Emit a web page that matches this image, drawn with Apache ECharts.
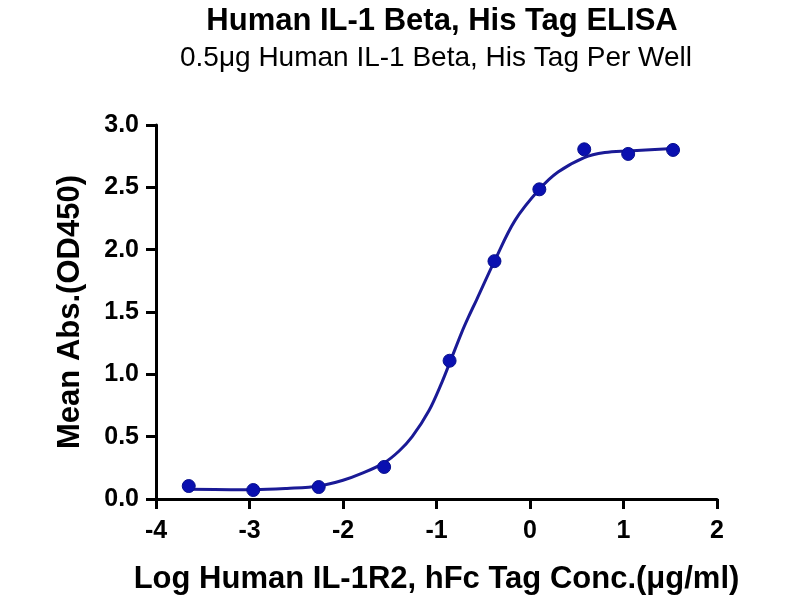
<!DOCTYPE html>
<html>
<head>
<meta charset="utf-8">
<title>Human IL-1 Beta, His Tag ELISA</title>
<script src="https://cdn.jsdelivr.net/npm/echarts@6/dist/echarts.min.js"></script>
<style>
  html, body { margin: 0; padding: 0; background: #fff; }
  #chart { width: 800px; height: 600px; }
</style>
</head>
<body>
<div id="chart"></div>
<script>
// 测量点 (log 浓度, OD450)
const doseLog = [-3.65, -2.96, -2.26, -1.56, -0.86, -0.38, 0.10, 0.58, 1.05, 1.53];
const meanAbs = [0.104, 0.072, 0.096, 0.257, 1.109, 1.908, 2.484, 2.805, 2.768, 2.800];

// 拟合曲线
const fitX = [-3.65, -3.2, -2.95, -2.6, -2.25, -2.0, -1.8, -1.56, -1.40, -1.26, -1.08, -0.94,
              -0.86, -0.73, -0.66, -0.57, -0.38, -0.16, 0.10, 0.30, 0.58, 0.80, 1.05, 1.53];
const fitY = [0.078, 0.075, 0.075, 0.085, 0.105, 0.15, 0.205, 0.29, 0.385, 0.50, 0.71, 0.94,
              1.09, 1.337, 1.457, 1.60, 1.908, 2.235, 2.484, 2.623, 2.739, 2.779, 2.792, 2.811];

const xTicks = [-4, -3, -2, -1, 0, 1, 2];
const yTicks = [0, 0.5, 1, 1.5, 2, 2.5, 3];

const fontFamily = 'Liberation Sans, Arial, sans-serif';
const lineColor = '#1a1a96';
const dotColor = '#0a10b0';

var chart = echarts.init(document.getElementById('chart'));

var option = {
    backgroundColor: '#fff',
    animation: false,
    title: [
        {
            text: 'Human IL-1 Beta, His Tag ELISA',
            left: 437,
            top: 1,
            textAlign: 'center',
            textStyle: { fontFamily: fontFamily, fontWeight: 'bold', fontSize: 31, color: '#000' }
        },
        {
            text: '0.5μg Human IL-1 Beta, His Tag Per Well',
            left: 431,
            top: 39,
            textAlign: 'center',
            textStyle: { fontFamily: fontFamily, fontWeight: 'normal', fontSize: 28, color: '#000' }
        }
    ],
    grid: {
        left: 156,
        right: 83,
        top: 125,
        bottom: 101,
        containLabel: false,
        outerBoundsMode: 'none'
    },
    xAxis: {
        type: 'value',
        min: xTicks[0],
        max: xTicks[xTicks.length - 1],
        interval: 1,
        name: 'Log Human IL-1R2, hFc Tag Conc.(μg/ml)',
        nameLocation: 'middle',
        nameGap: 65,
        nameTextStyle: { fontFamily: fontFamily, fontWeight: 'bold', fontSize: 31, color: '#000' },
        axisLine: { show: true, onZero: false, lineStyle: { color: '#000', width: 3 } },
        axisTick: { show: true, length: 10, lineStyle: { color: '#000', width: 3 } },
        axisLabel: {
            margin: 20,
            fontFamily: fontFamily, fontWeight: 'bold', fontSize: 25, color: '#000',
            formatter: function (v) { return String(v); }
        },
        splitLine: { show: false }
    },
    yAxis: {
        type: 'value',
        min: yTicks[0],
        max: yTicks[yTicks.length - 1],
        interval: 0.5,
        name: 'Mean Abs.(OD450)',
        nameLocation: 'middle',
        nameGap: 70,
        nameTextStyle: { fontFamily: fontFamily, fontWeight: 'bold', fontSize: 31, color: '#000' },
        axisLine: { show: true, onZero: false, lineStyle: { color: '#000', width: 3 } },
        axisTick: { show: true, length: 10, lineStyle: { color: '#000', width: 3 } },
        axisLabel: {
            margin: 17,
            fontFamily: fontFamily, fontWeight: 'bold', fontSize: 25, color: '#000',
            formatter: function (v) { return v.toFixed(1); }
        },
        splitLine: { show: false }
    },
    series: [
        {
            name: 'fit',
            type: 'line',
            data: fitX.map((x, i) => [x, fitY[i]]),
            smooth: 0.35,
            showSymbol: false,
            symbol: 'none',
            lineStyle: { color: lineColor, width: 3 },
            z: 2
        },
        {
            name: 'data',
            type: 'scatter',
            data: doseLog.map((x, i) => [x, meanAbs[i]]),
            symbol: 'circle',
            symbolSize: 13,
            itemStyle: { color: dotColor, opacity: 1, borderColor: '#08108e', borderWidth: 1 },
            z: 3
        }
    ]
};

chart.setOption(option);
</script>
</body>
</html>
